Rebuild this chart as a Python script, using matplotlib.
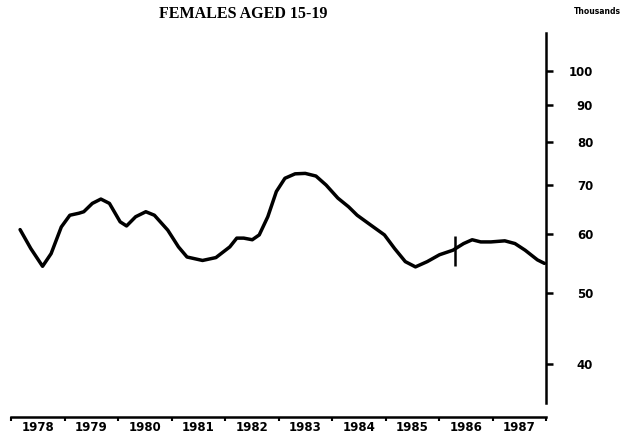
import matplotlib
matplotlib.use("Agg")
import matplotlib.pyplot as plt
from matplotlib.ticker import FixedLocator, FixedFormatter, NullLocator

# values (year, thousands)
years = [1978.17, 1978.37, 1978.59, 1978.75, 1978.94, 1979.10, 1979.27, 1979.36,
         1979.52, 1979.68, 1979.84, 1980.04, 1980.16, 1980.33, 1980.52, 1980.68,
         1980.93, 1981.13, 1981.29, 1981.58, 1981.83, 1982.09, 1982.22, 1982.35,
         1982.51, 1982.64, 1982.80, 1982.96, 1983.12, 1983.31, 1983.50, 1983.70,
         1983.89, 1984.11, 1984.31, 1984.47, 1984.72, 1984.98, 1985.17, 1985.37,
         1985.56, 1985.78, 1986.01, 1986.26, 1986.46, 1986.62, 1986.78, 1986.97,
         1987.23, 1987.42, 1987.61, 1987.84, 1987.97]
females = [60.9, 57.4, 54.3, 56.5, 61.4, 63.7, 64.1, 64.4,
           66.1, 67.0, 66.1, 62.4, 61.6, 63.4, 64.4, 63.7,
           60.8, 57.7, 55.9, 55.3, 55.8, 57.7, 59.3, 59.3,
           59.0, 59.9, 63.4, 68.6, 71.5, 72.5, 72.6, 72.0,
           70.0, 67.2, 65.4, 63.7, 61.8, 59.9, 57.4, 55.1,
           54.2, 55.1, 56.3, 57.1, 58.3, 59.0, 58.6, 58.6,
           58.8, 58.3, 57.1, 55.4, 54.8]
break_year = 1986.29
break_value = 57.0

year_labels = [str(y) for y in range(1978, 1988)]
y_ticks = [40, 50, 60, 70, 80, 90, 100]

fig = plt.figure(figsize=(6.22, 4.36), dpi=100)
ax = fig.add_axes([11 / 622, 1 - 417 / 436, (546 - 11) / 622, (417 - 33) / 436])

ax.plot(years, females, color="black", linewidth=2.5,
        solid_capstyle="round", solid_joinstyle="round")
ax.plot([break_year], [break_value], marker="|", markersize=21,
        markeredgewidth=1.8, color="black")

ax.set_yscale("log")
ax.set_xlim(1978, 1988)
ax.set_ylim(33.9, 112.6)

for side in ["left", "top"]:
    ax.spines[side].set_visible(False)
ax.spines["right"].set_linewidth(1.8)
ax.spines["bottom"].set_linewidth(1.8)
ax.spines["right"].set_bounds(35.4, 112.6)

# x axis: boundary ticks, labels at year middles
ax.xaxis.set_major_locator(FixedLocator(range(1978, 1989)))
ax.xaxis.set_major_formatter(FixedFormatter([""] * 11))
ax.xaxis.set_minor_locator(FixedLocator([y + 0.5 for y in range(1978, 1988)]))
ax.xaxis.set_minor_formatter(FixedFormatter(year_labels))
ax.tick_params(axis="x", which="major", direction="out", length=3, width=1.5)
ax.tick_params(axis="x", which="minor", length=0, pad=3, labelsize=8.5)
for lbl in ax.get_xticklabels(minor=True):
    lbl.set_fontweight("bold")

# y axis on the right, log scale
ax.yaxis.tick_right()
ax.yaxis.set_major_locator(FixedLocator(y_ticks))
ax.yaxis.set_major_formatter(FixedFormatter([str(v) for v in y_ticks]))
ax.yaxis.set_minor_locator(NullLocator())
ax.tick_params(axis="y", which="major", direction="out", length=5, width=1.8,
               pad=29, labelsize=8.5)
for lbl in ax.get_yticklabels():
    lbl.set_horizontalalignment("right")
    lbl.set_fontweight("bold")

fig.text(243 / 622, 1 - 14 / 436, "FEMALES AGED 15-19", ha="center", va="center",
         fontsize=11.5, fontweight="bold", family="Liberation Serif")
fig.text(597 / 622, 1 - 12 / 436, "Thousands", ha="center", va="center",
         fontsize=5.5, fontweight="bold")

fig.savefig("out.png", dpi=100)
